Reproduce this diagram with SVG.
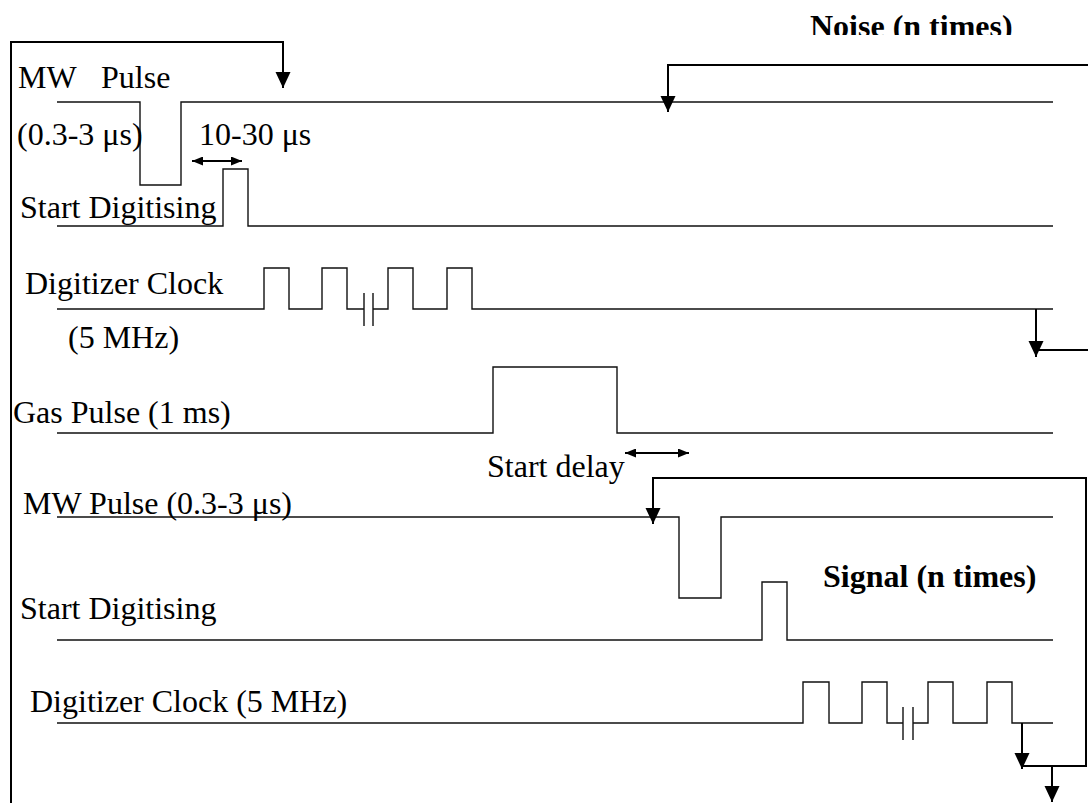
<svg xmlns="http://www.w3.org/2000/svg" width="1088" height="803" viewBox="0 0 1088 803">
<style>
.lbl{font-family:"Liberation Serif","Times New Roman",serif;font-size:32px;fill:#000}
.bold{font-weight:bold}
.wave{fill:none;stroke:#111;stroke-width:1.4}
.loop{fill:none;stroke:#000;stroke-width:2}
.dbl{fill:none;stroke:#000;stroke-width:2}
</style>
<defs>
<marker id="ah" markerUnits="userSpaceOnUse" markerWidth="16" markerHeight="16" refX="16" refY="7.5" orient="auto" viewBox="0 0 16 15">
<path d="M0,0 L16,7.5 L0,15 z" fill="#000"/>
</marker>
<marker id="sh" markerUnits="userSpaceOnUse" markerWidth="11" markerHeight="9" refX="11" refY="4.5" orient="auto-start-reverse" viewBox="0 0 11 9">
<path d="M0,0 L11,4.5 L0,9 z" fill="#000"/>
</marker>
<clipPath id="noiseClip"><rect x="0" y="0" width="1088" height="35"/></clipPath>
</defs>
<rect width="1088" height="803" fill="#fff"/>

<g id="mw1">
<path class="wave" d="M57,102 H140 V185 H181 V102 H1053"/>
<text class="lbl" x="18" y="88">MW<tspan x="101">Pulse</tspan></text>
<text class="lbl" x="17" y="145">(0.3-3 μs)</text>
</g>
<g id="gap1">
<text class="lbl" x="199" y="145">10-30 μs</text>
<path class="dbl" d="M192,161 H242" marker-start="url(#sh)" marker-end="url(#sh)"/>
</g>
<g id="sd1">
<path class="wave" d="M57,226 H223 V169 H248 V226 H1053"/>
<text class="lbl" x="20" y="218">Start Digitising</text>
</g>
<g id="clk1">
<path class="wave" d="M57,309 H264 V268 H289 V309 H322 V268 H347 V309 H364 M373,309 H388 V268 H413 V309 H447 V268 H472 V309 H1053 M364,293 V326 M373,293 V326"/>
<text class="lbl" x="25" y="294">Digitizer Clock</text>
<text class="lbl" x="68" y="348">(5 MHz)</text>
</g>
<g id="gas">
<path class="wave" d="M57,433 H493 V367 H617 V433 H1053"/>
<text class="lbl" x="13" y="423">Gas Pulse (1 ms)</text>
</g>
<g id="delay">
<text class="lbl" x="487" y="477">Start delay</text>
<path class="dbl" d="M625,453 H689" marker-start="url(#sh)" marker-end="url(#sh)"/>
</g>
<g id="mw2">
<path class="wave" d="M57,517 H679 V598 H721 V517 H1053"/>
<text class="lbl" x="23" y="514">MW Pulse (0.3-3 μs)</text>
</g>
<g id="sd2">
<path class="wave" d="M57,640 H762 V582 H787 V640 H1053"/>
<text class="lbl" x="20" y="619">Start Digitising</text>
</g>
<g id="clk2">
<path class="wave" d="M57,723 H803 V682 H829 V723 H862 V682 H887 V723 H903 M913,723 H928 V682 H953 V723 H987 V682 H1012 V723 H1053 M903,707 V740 M913,707 V740"/>
<text class="lbl" x="30" y="712">Digitizer Clock (5 MHz)</text>
</g>
<g id="noise-label">
<text class="lbl bold" x="810" y="37" clip-path="url(#noiseClip)">Noise (n times)</text>
</g>
<g id="signal-label">
<text class="lbl bold" x="823" y="587">Signal (n times)</text>
</g>

<g id="connectors">
<path class="loop" d="M11,803 V42 H283 V88" marker-end="url(#ah)"/>
<path class="loop" d="M1088,65 H668 V112" marker-end="url(#ah)"/>
<path class="loop" d="M1036,309 V357" marker-end="url(#ah)"/>
<path class="loop" d="M1036,350 H1088"/>
<path class="loop" d="M1022,723 V769" marker-end="url(#ah)"/>
<path class="loop" d="M1022,766 H1086 V478 H653 V524" marker-end="url(#ah)"/>
<path class="loop" d="M1052,766 V802" marker-end="url(#ah)"/>
</g>
</svg>
